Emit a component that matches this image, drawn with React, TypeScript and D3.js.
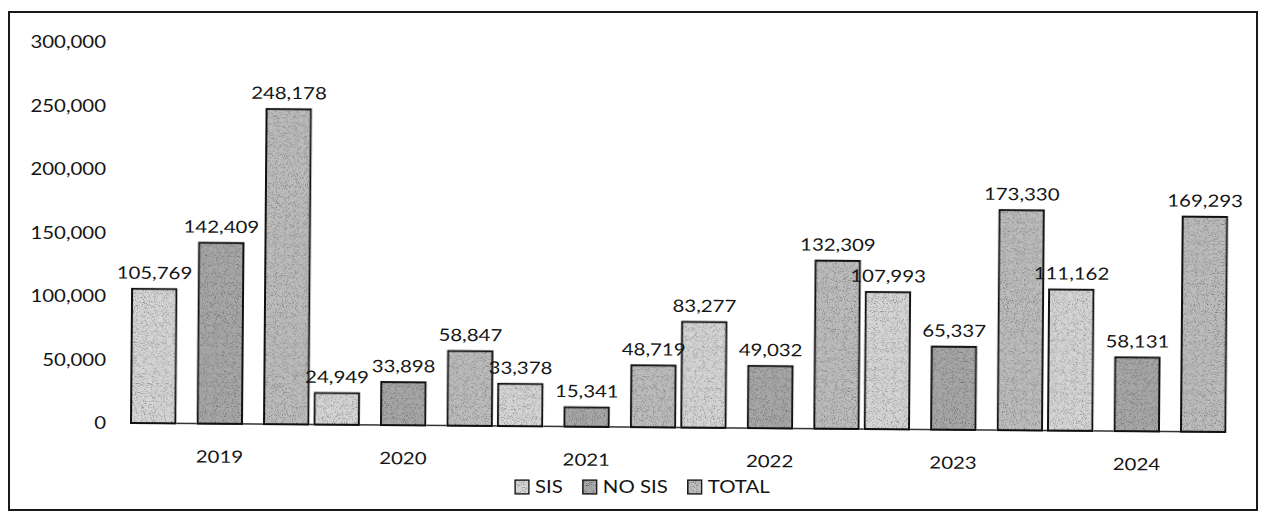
import React from "react";
import * as d3 from "d3";

const YEARS = ["2019", "2020", "2021", "2022", "2023", "2024"];
const SERIES = ["SIS", "NO SIS", "TOTAL"];
const SIS_VALUES = [105769, 24949, 33378, 83277, 107993, 111162];
const NO_SIS_VALUES = [142409, 33898, 15341, 49032, 65337, 58131];
const TOTAL_VALUES = [248178, 58847, 48719, 132309, 173330, 169293];
const Y_TICKS = [0, 50000, 100000, 150000, 200000, 250000, 300000];

const COLORS = ["#d6d6d6", "#a8a8a8", "#bdbdbd"];

const WIDTH = 1261;
const HEIGHT = 512;
const FONT = "Lato, 'Open Sans', sans-serif";
const FONT_SIZE = 17;
const STRETCH = 1.2;

export default class App extends React.Component<{}, any> {

    ref = React.createRef<HTMLDivElement>();

    componentDidMount() {
        document.body.style.margin = "0";
        d3.select(this.ref.current).selectAll("*").remove();

        const svg = d3.select(this.ref.current).append("svg")
            .attr("width", WIDTH)
            .attr("height", HEIGHT)
            .style("display", "block")
            .style("background", "#fff");

        // grainy scan look for the bars
        const filter = svg.append("defs").append("filter")
            .attr("id", "grain")
            .attr("color-interpolation-filters", "sRGB");
        filter.append("feTurbulence")
            .attr("type", "fractalNoise")
            .attr("baseFrequency", 0.9)
            .attr("numOctaves", 2)
            .attr("seed", 7)
            .attr("result", "noise");
        filter.append("feColorMatrix")
            .attr("in", "noise")
            .attr("type", "matrix")
            .attr("values", "1 0 0 0 0  1 0 0 0 0  1 0 0 0 0  0 0 0 0 1")
            .attr("result", "gray");
        const ct = filter.append("feComponentTransfer").attr("in", "gray").attr("result", "grain");
        ["feFuncR", "feFuncG", "feFuncB"].forEach(fn =>
            ct.append(fn).attr("type", "linear").attr("slope", 1.4).attr("intercept", 0.32));
        filter.append("feBlend")
            .attr("in", "SourceGraphic")
            .attr("in2", "grain")
            .attr("mode", "multiply")
            .attr("result", "mixed");
        filter.append("feComposite")
            .attr("in", "mixed")
            .attr("in2", "SourceGraphic")
            .attr("operator", "in");

        const text = (g: any, x: number, y: number, s: string, anchor = "middle") =>
            g.append("text")
                .attr("transform", `translate(${x},${y}) scale(${STRETCH},1)`)
                .attr("text-anchor", anchor)
                .attr("font-family", FONT)
                .attr("font-size", FONT_SIZE)
                .attr("fill", "#151515")
                .text(s);

        // outer frame
        svg.append("rect")
            .attr("x", 9).attr("y", 12)
            .attr("width", 1248).attr("height", 498)
            .attr("fill", "none")
            .attr("stroke", "#1a1a1a")
            .attr("stroke-width", 2);

        const y = d3.scaleLinear().domain([0, 300000]).range([423, 42]);
        const fmt = d3.format(",");

        Y_TICKS.forEach(t => text(svg, 106, y(t) + 6, fmt(t), "end"));

        const x0 = d3.scaleBand().domain(YEARS).range([131, 131 + 6 * 183.4]);
        const x1 = d3.scaleBand().domain(SERIES).range([0, 177.5]).paddingInner(0.331);

        const valuesBySeries = [SIS_VALUES, NO_SIS_VALUES, TOTAL_VALUES];
        const rows = YEARS.flatMap((year, i) =>
            SERIES.map((s, k) => ({year, series: s, k, value: valuesBySeries[k][i]})));

        // the scan is slightly tilted
        const plot = svg.append("g").attr("transform", "rotate(0.47,131,423)");

        plot.append("line")
            .attr("x1", x0.range()[0]).attr("x2", x0("2024")! + 177.5)
            .attr("y1", y(0)).attr("y2", y(0))
            .attr("stroke", "#333")
            .attr("stroke-width", 1.5);

        plot.append("g")
            .selectAll("rect")
            .data(rows)
            .enter()
            .append("rect")
            .attr("x", d => x0(d.year)! + x1(d.series)!)
            .attr("y", d => y(d.value))
            .attr("width", x1.bandwidth())
            .attr("height", d => y(0) - y(d.value))
            .attr("fill", d => COLORS[d.k])
            .attr("stroke", "#111")
            .attr("stroke-width", 2)
            .attr("filter", "url(#grain)");

        rows.forEach(d =>
            text(plot, x0(d.year)! + x1(d.series)! + x1.bandwidth() / 2, y(d.value) - 10, fmt(d.value)));

        YEARS.forEach(yr => text(plot, x0(yr)! + 177.5 / 2, y(0) + 39, yr));

        // legend
        const legend = svg.append("g");
        let lx = 515;
        SERIES.forEach((s, k) => {
            legend.append("rect")
                .attr("x", lx).attr("y", 480)
                .attr("width", 14).attr("height", 14)
                .attr("fill", COLORS[k])
                .attr("stroke", "#111")
                .attr("stroke-width", 1.5)
                .attr("filter", "url(#grain)");
            const t = text(legend, lx + 20, 493, s, "start");
            const w = (t.node() as SVGTextElement).getComputedTextLength() * STRETCH;
            lx += 20 + w + 20;
        });
    }

    render() {
        return <div ref={this.ref}/>
    }
}
